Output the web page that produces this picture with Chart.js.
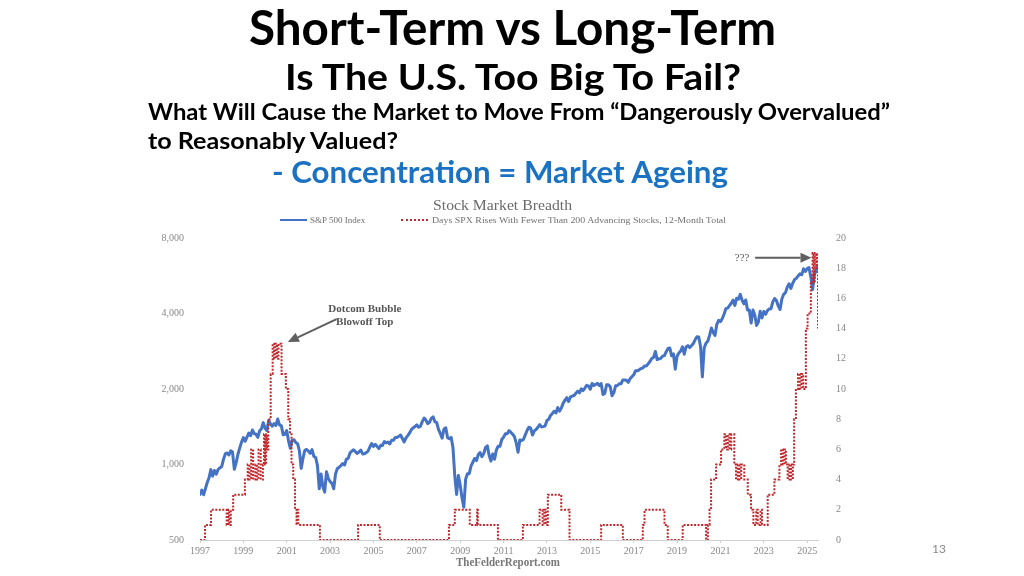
<!DOCTYPE html>
<html><head><meta charset="utf-8">
<script src="https://cdn.jsdelivr.net/npm/chart.js@4.4.1/dist/chart.umd.min.js"></script>
<style>
html,body{margin:0;padding:0;background:#fff;}
#wrap{position:relative;width:1024px;height:576px;overflow:hidden;font-family:Lato,"Open Sans",sans-serif;background:#fff;}
#c{position:absolute;left:0;top:0;}
.t{position:absolute;white-space:nowrap;font-weight:bold;color:#000;line-height:1;}
.s{position:absolute;white-space:nowrap;font-family:"Liberation Serif","DejaVu Serif",serif;color:#707070;line-height:1;}
</style></head><body>
<div id="wrap">
<canvas id="c" width="1024" height="576"></canvas>
<div class="t" data-w="527" data-c="512" style="top:4px;font-size:47px;">Short-Term vs Long-Term</div>
<div class="t" data-w="456" data-c="513" style="top:58px;font-size:36px;">Is The U.S. Too Big To Fail?</div>
<div class="t" data-w="742" data-l="148" style="top:101px;font-size:22.5px;">What Will Cause the Market to Move From “Dangerously Overvalued”</div>
<div class="t" data-w="250" data-l="148" style="top:130px;font-size:22.5px;">to Reasonably Valued?</div>
<div class="t" data-w="456" data-c="500" style="top:156px;font-size:31px;color:#1b72c2;">- Concentration = Market Ageing</div>
<div class="t" style="left:932px;top:543px;font-size:12px;font-weight:normal;color:#8a8a8a;">13</div>
<div class="s" data-w="139" data-c="502" style="top:198px;font-size:15px;color:#6a6a6a;">Stock Market Breadth</div>
<div style="position:absolute;left:280px;top:219px;width:27px;border-top:2.5px solid #4472c4;"></div>
<div class="s" style="left:310px;top:216px;font-size:9px;">S&amp;P 500 Index</div>
<div style="position:absolute;left:401px;top:219px;width:27px;border-top:2px dotted #c0282d;"></div>
<div class="s" data-w="294" data-l="432" style="top:216px;font-size:9px;">Days SPX Rises With Fewer Than 200 Advancing Stocks, 12-Month Total</div>
<div class="s" data-w="104" data-c="508" style="top:556px;font-size:12px;font-weight:bold;color:#777;">TheFelderReport.com</div>
</div>
<script>
// ---------- DATA ----------
const spStartYear = 1997; // monthly values, Jan 1997 onward
const sp500Monthly = [
  // 1997
  760, 791, 757, 801, 848, 885, 954, 899, 947, 915, 955, 970,
  // 1998
  980, 1049, 1102, 1112, 1091, 1134, 1121, 957, 1017, 1099, 1164, 1229,
  // 1999
  1280, 1238, 1286, 1335, 1302, 1373, 1329, 1320, 1283, 1363, 1389, 1469,
  // 2000
  1394, 1366, 1499, 1452, 1421, 1455, 1431, 1518, 1437, 1429, 1315, 1320,
  // 2001
  1366, 1240, 1160, 1249, 1256, 1224, 1211, 1134, 965, 1060, 1139, 1148,
  // 2002
  1130, 1107, 1147, 1077, 1067, 990, 800, 916, 815, 776, 936, 880,
  // 2003
  856, 841, 800, 917, 964, 975, 990, 1008, 996, 1051, 1058, 1112,
  // 2004
  1131, 1145, 1126, 1107, 1121, 1141, 1102, 1104, 1115, 1130, 1174, 1212,
  // 2005
  1181, 1204, 1181, 1157, 1192, 1191, 1234, 1220, 1229, 1207, 1249, 1248,
  // 2006
  1280, 1281, 1295, 1311, 1270, 1230, 1277, 1304, 1336, 1378, 1401, 1418,
  // 2007
  1438, 1407, 1421, 1482, 1531, 1503, 1455, 1474, 1527, 1549, 1481, 1468,
  // 2008
  1379, 1331, 1273, 1386, 1400, 1280, 1267, 1283, 1165, 900, 760, 903,
  // 2009
  826, 735, 676, 873, 919, 919, 987, 1021, 1057, 1036, 1096, 1115,
  // 2010
  1074, 1104, 1169, 1187, 1089, 1031, 1102, 1049, 1141, 1183, 1181, 1258,
  // 2011
  1286, 1327, 1326, 1364, 1345, 1321, 1292, 1219, 1120, 1253, 1247, 1258,
  // 2012
  1312, 1366, 1408, 1398, 1310, 1362, 1379, 1407, 1441, 1412, 1416, 1426,
  // 2013
  1498, 1515, 1569, 1598, 1631, 1606, 1686, 1633, 1682, 1757, 1806, 1848,
  // 2014
  1783, 1859, 1872, 1884, 1924, 1960, 1931, 2003, 1972, 2018, 2068, 2059,
  // 2015
  1995, 2105, 2068, 2086, 2107, 2063, 2104, 1900, 1920, 2079, 2080, 2044,
  // 2016
  1880, 1932, 2060, 2065, 2097, 2099, 2174, 2171, 2168, 2126, 2199, 2239,
  // 2017
  2279, 2364, 2363, 2384, 2412, 2423, 2470, 2472, 2519, 2575, 2648, 2674,
  // 2018
  2824, 2620, 2641, 2648, 2705, 2718, 2816, 2902, 2914, 2712, 2760, 2400,
  // 2019
  2704, 2784, 2834, 2946, 2752, 2942, 2980, 2926, 2977, 3038, 3141, 3231,
  // 2020
  3226, 2954, 2237, 2912, 3044, 3100, 3271, 3500, 3363, 3270, 3622, 3756,
  // 2021
  3714, 3811, 3973, 4181, 4204, 4298, 4395, 4523, 4308, 4605, 4567, 4766,
  // 2022
  4516, 4374, 4530, 4132, 4132, 3667, 4130, 3955, 3586, 3700, 4080, 3840,
  // 2023
  4077, 3970, 4109, 4169, 4180, 4450, 4589, 4508, 4288, 4150, 4568, 4770,
  // 2024
  4846, 5096, 5254, 5036, 5278, 5460, 5522, 5648, 5762, 5705, 6032, 5882,
  // 2025
  6041, 6100, 5612, 4982, 5700, 5950, 6200
];

// 12-month total of narrow up-days: (year, value) change points
const breadthYears = [
  1997.00, 1997.23, 1997.51, 1998.23, 1998.30, 1998.35, 1998.42, 1998.53,
  1999.07, 1999.20, 1999.28, 1999.36, 1999.45, 1999.55, 1999.62, 1999.70, 1999.80, 1999.90, 1999.95,
  2000.00, 2000.05, 2000.10, 2000.15, 2000.26, 2000.35, 2000.42, 2000.48, 2000.55, 2000.62, 2000.76, 2000.96,
  2001.07, 2001.15, 2001.22, 2001.30, 2001.38, 2001.45, 2001.48, 2001.53,
  2002.53, 2004.29, 2005.29, 2008.48, 2008.75, 2009.44, 2009.78, 2009.81, 2010.74, 2011.89,
  2012.66, 2012.80, 2012.88, 2012.95, 2013.04, 2013.66, 2014.04, 2015.50, 2016.50,
  2017.42, 2017.50, 2018.42, 2018.57, 2019.26,
  2020.34, 2020.42, 2020.50, 2020.57, 2020.80,
  2021.03, 2021.18, 2021.26, 2021.34, 2021.42, 2021.50, 2021.64, 2021.72, 2021.80, 2021.88, 2021.96,
  2022.10, 2022.26, 2022.41, 2022.52, 2022.65, 2022.72, 2022.85, 2022.92,
  2023.18, 2023.49, 2023.72, 2023.80, 2023.88, 2023.96,
  2024.02, 2024.10, 2024.18, 2024.26, 2024.34, 2024.40, 2024.48, 2024.58, 2024.66, 2024.74, 2024.82, 2024.94,
  2025.02, 2025.17, 2025.25, 2025.30, 2025.35, 2025.42, 2025.46, 2025.50
];
const breadthValues = [
  0, 1, 2, 1, 2, 1, 2, 3,
  4, 5, 4, 6, 4, 5, 4, 6, 4, 5, 7,
  5, 7, 6, 8, 11, 13, 12, 13, 12, 13, 11, 10,
  8, 7, 5, 4, 2, 1, 2, 1,
  0, 1, 0, 1, 2, 1, 2, 1, 0, 1,
  2, 1, 2, 1, 3, 2, 0, 1, 0,
  1, 2, 1, 0, 1,
  0, 1, 2, 4, 5,
  6, 7, 6, 7, 6, 7, 5, 4, 5, 4, 5,
  4, 3, 2, 1, 2, 1, 2, 1,
  3, 4, 5, 6, 5, 6,
  5, 4, 5, 4, 5, 8, 10, 11, 10, 11, 10, 14,
  15, 17, 19, 17, 19, 18, 19, 14
];

const xTickYears = [1997, 1999, 2001, 2003, 2005, 2007, 2009, 2011, 2013, 2015, 2017, 2019, 2021, 2023, 2025];
const leftTicks = [500, 1000, 2000, 4000, 8000];

// ---------- BUILD ----------
const spPoints = sp500Monthly.map((v, i) => ({ x: spStartYear + i / 12, y: v }));
const breadthPoints = breadthYears.map((yr, i) => ({ x: yr, y: breadthValues[i] }));

const tickFont = { family: '"Liberation Serif", "DejaVu Serif", serif', size: 10 };

const annotationPlugin = {
  id: 'arrows',
  afterDatasetsDraw(chart) {
    const ctx = chart.ctx;
    const xs = chart.scales.x, yl = chart.scales.yL, yr = chart.scales.yR;
    const arrow = (x1, y1, x2, y2) => {
      ctx.save();
      ctx.strokeStyle = '#5f5f5f'; ctx.fillStyle = '#5f5f5f'; ctx.lineWidth = 2;
      const a = Math.atan2(y2 - y1, x2 - x1), h = 11, w = 5;
      const bx = x2 - h * Math.cos(a), by = y2 - h * Math.sin(a);
      ctx.beginPath(); ctx.moveTo(x1, y1); ctx.lineTo(bx, by); ctx.stroke();
      ctx.beginPath(); ctx.moveTo(x2, y2);
      ctx.lineTo(bx + w * Math.sin(a), by - w * Math.cos(a));
      ctx.lineTo(bx - w * Math.sin(a), by + w * Math.cos(a));
      ctx.closePath(); ctx.fill();
      ctx.restore();
    };
    // Dotcom annotation (left-axis coordinates)
    const tx1 = xs.getPixelForValue(2003.3), ty1 = yl.getPixelForValue(3800);
    const hx1 = xs.getPixelForValue(2001.05), hy1 = yl.getPixelForValue(3080);
    arrow(tx1, ty1, hx1, hy1);
    ctx.save();
    ctx.fillStyle = '#555';
    ctx.font = 'bold 11px "Liberation Serif", "DejaVu Serif", serif';
    ctx.textAlign = 'center'; ctx.textBaseline = 'middle';
    const cx = xs.getPixelForValue(2004.6);
    ctx.fillText('Dotcom Bubble', cx, yl.getPixelForValue(4150));
    ctx.fillText('Blowoff Top', cx, yl.getPixelForValue(3700));
    // ??? annotation (right-axis coordinates)
    ctx.font = '11px "Liberation Serif", "DejaVu Serif", serif';
    ctx.fillText('???', xs.getPixelForValue(2022.0), yr.getPixelForValue(18.7));
    ctx.restore();
    arrow(xs.getPixelForValue(2022.6), yr.getPixelForValue(18.7), xs.getPixelForValue(2025.2), yr.getPixelForValue(18.7));
  }
};

new Chart(document.getElementById('c'), {
  type: 'line',
  data: {
    datasets: [
      {
        label: 'Days SPX Rises With Fewer Than 200 Advancing Stocks, 12-Month Total',
        data: breadthPoints, yAxisID: 'yR', stepped: true,
        borderColor: '#c0282d', borderWidth: 2, borderDash: [2, 1.5],
        pointRadius: 0, fill: false, order: 1
      },
      {
        label: 'S&P 500 Index',
        data: spPoints, yAxisID: 'yL',
        borderColor: '#4472c4', borderWidth: 3, tension: 0,
        borderJoinStyle: 'round', borderCapStyle: 'round',
        pointRadius: 0, fill: false, order: 2
      }
    ]
  },
  options: {
    responsive: false, animation: false, events: [],
    layout: { padding: { left: 160, right: 166, top: 238, bottom: 14 } },
    plugins: { legend: { display: false }, title: { display: false }, tooltip: { enabled: false } },
    scales: {
      x: {
        type: 'linear', min: 1997, max: 2025.5,
        afterBuildTicks: s => { s.ticks = xTickYears.map(v => ({ value: v })); },
        afterFit: s => { s.height = 22; },
        ticks: { callback: v => String(v), font: tickFont, color: '#888', padding: 2, maxRotation: 0, autoSkip: false },
        grid: { display: true, drawOnChartArea: false, drawTicks: true, tickLength: 3, color: '#d0d0d0' },
        border: { display: true, color: '#d0d0d0', width: 1 }
      },
      yL: {
        type: 'logarithmic', position: 'left', min: 500, max: 8000,
        afterBuildTicks: s => { s.ticks = leftTicks.map(v => ({ value: v })); },
        afterFit: s => { s.width = 40; },
        ticks: { callback: v => Number(v).toLocaleString('en-US'), font: tickFont, color: '#888', padding: 8 },
        grid: { display: false }, border: { display: false }
      },
      yR: {
        type: 'linear', position: 'right', min: 0, max: 20,
        afterFit: s => { s.width = 40; },
        ticks: { stepSize: 2, font: tickFont, color: '#888', padding: 10 },
        grid: { display: false }, border: { display: false }
      }
    }
  },
  plugins: [annotationPlugin]
});

// fit slide text to measured widths
document.querySelectorAll('[data-w]').forEach(el => {
  const w = el.getBoundingClientRect().width;
  const target = parseFloat(el.dataset.w);
  const k = target / w;
  if (el.dataset.c) {
    el.style.left = (parseFloat(el.dataset.c) - target / 2) + 'px';
  } else {
    el.style.left = el.dataset.l + 'px';
  }
  el.style.transformOrigin = '0 0';
  el.style.transform = 'scaleX(' + k + ')';
});
</script>
</body></html>
